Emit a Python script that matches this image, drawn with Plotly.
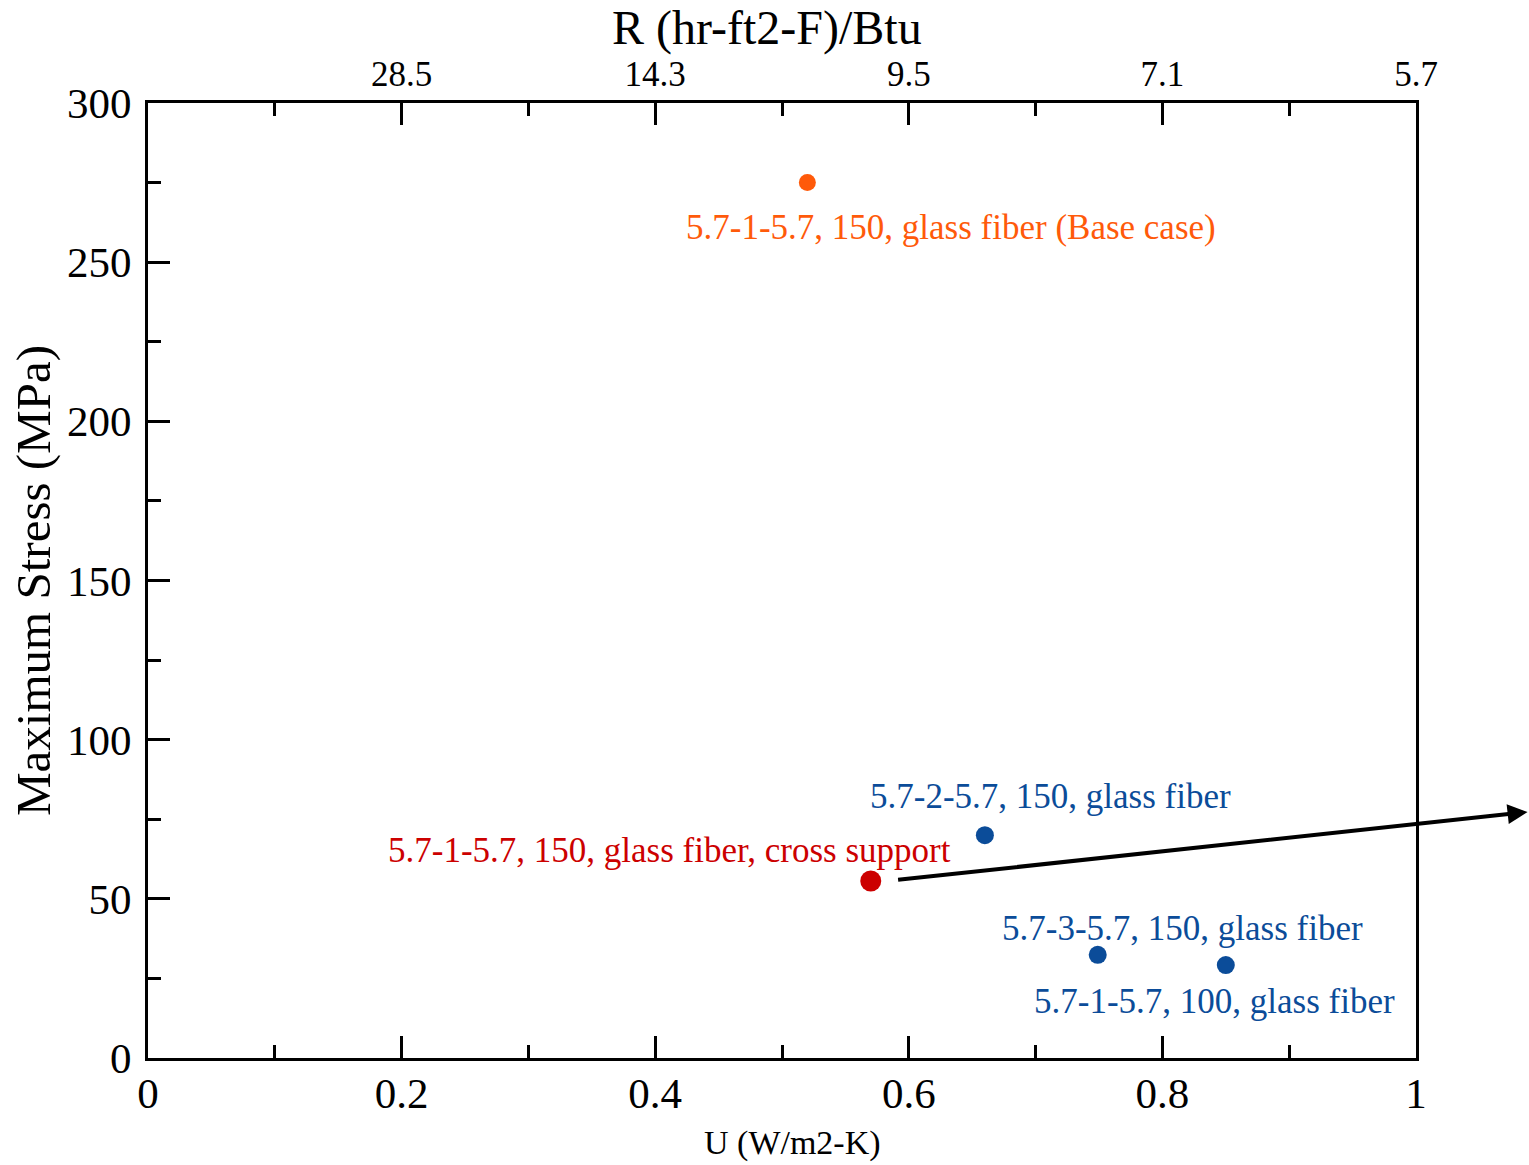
import plotly.graph_objects as go

# Data
u_vals = [0.52, 0.57, 0.66, 0.749, 0.85]
stress = [275, 55.6, 70.0, 32.4, 29.2]
colors = ["#FF5A0A", "#CC0000", "#0B4C99", "#0B4C99", "#0B4C99"]
sizes = [17, 21, 18, 18, 18]
labels = ["5.7-1-5.7, 150, glass fiber (Base case)",
          "5.7-1-5.7, 150, glass fiber, cross support",
          "5.7-2-5.7, 150, glass fiber",
          "5.7-3-5.7, 150, glass fiber",
          "5.7-1-5.7, 100, glass fiber"]
label_x = [0.633, 0.411, 0.712, 0.816, 0.841]
label_y = [261, 65.3, 82.0, 40.8, 17.6]
top_tickvals = [0.2, 0.4, 0.6, 0.8, 1.0]
top_ticktext = ["28.5", "14.3", "9.5", "7.1", "5.7"]

FONT = "Liberation Serif"

fig = go.Figure()
fig.add_trace(go.Scatter(x=u_vals, y=stress, mode="markers",
                         marker=dict(color=colors, size=sizes, opacity=1, line=dict(width=0)),
                         showlegend=False, cliponaxis=False))
# dummy trace for top axis
fig.add_trace(go.Scatter(x=[None], y=[None], xaxis="x2", showlegend=False))

for t, xx, yy, c in zip(labels, label_x, label_y, colors):
    fig.add_annotation(x=xx, y=yy, text=t, showarrow=False,
                       font=dict(family=FONT, size=35, color=c))

# arrow
fig.add_annotation(x=1.088, y=0.2576, xref="paper", yref="paper",
                   ax=-631, ay=68, axref="pixel", ayref="pixel",
                   showarrow=True, arrowhead=2, arrowsize=1, arrowwidth=4,
                   arrowcolor="black", text="")

# axis titles as annotations for exact placement
fig.add_annotation(x=(767 - 148) / 1268, y=1, xref="paper", yref="paper",
                   xanchor="center", yanchor="middle", yshift=75,
                   text="R (hr-ft2-F)/Btu", showarrow=False,
                   font=dict(family=FONT, size=48, color="black"))
fig.add_annotation(x=(793 - 148) / 1268, y=0, xref="paper", yref="paper",
                   xanchor="center", yanchor="middle", yshift=-85,
                   text="U (W/m2-K)", showarrow=False,
                   font=dict(family=FONT, size=34, color="black"))

axis_common = dict(showgrid=False, zeroline=False, showline=True, linecolor="black",
                   linewidth=3, ticks="inside", ticklen=22, tickwidth=2.5, tickcolor="black",
                   tickfont=dict(family=FONT, size=43, color="black"))

fig.update_layout(
    width=1529, height=1165,
    margin=dict(l=148, r=113, t=103, b=107),
    plot_bgcolor="white", paper_bgcolor="white",
    xaxis=dict(range=[0, 1], tick0=0, dtick=0.2, ticklabelstandoff=-5,
               minor=dict(dtick=0.1, ticks="inside", ticklen=13, tickwidth=2.5, tickcolor="black"),
               mirror=False, **axis_common),
    xaxis2=dict(range=[0, 1], overlaying="x", side="top", tickmode="array",
                tickvals=top_tickvals, ticktext=top_ticktext,
                minor=dict(tickvals=[0.1, 0.3, 0.5, 0.7, 0.9], ticks="inside", ticklen=13, tickwidth=2.5, tickcolor="black"),
                **{**axis_common, "tickfont": dict(family=FONT, size=35, color="black")}),
    yaxis=dict(range=[0, 300], dtick=50, ticklabelstandoff=5,
               minor=dict(dtick=25, ticks="inside", ticklen=13, tickwidth=2.5, tickcolor="black"),
               title=dict(text="Maximum Stress (MPa)", font=dict(family=FONT, size=49, color="black"), standoff=1),
               mirror=True, **axis_common),
)
fig.write_html("out.html")
